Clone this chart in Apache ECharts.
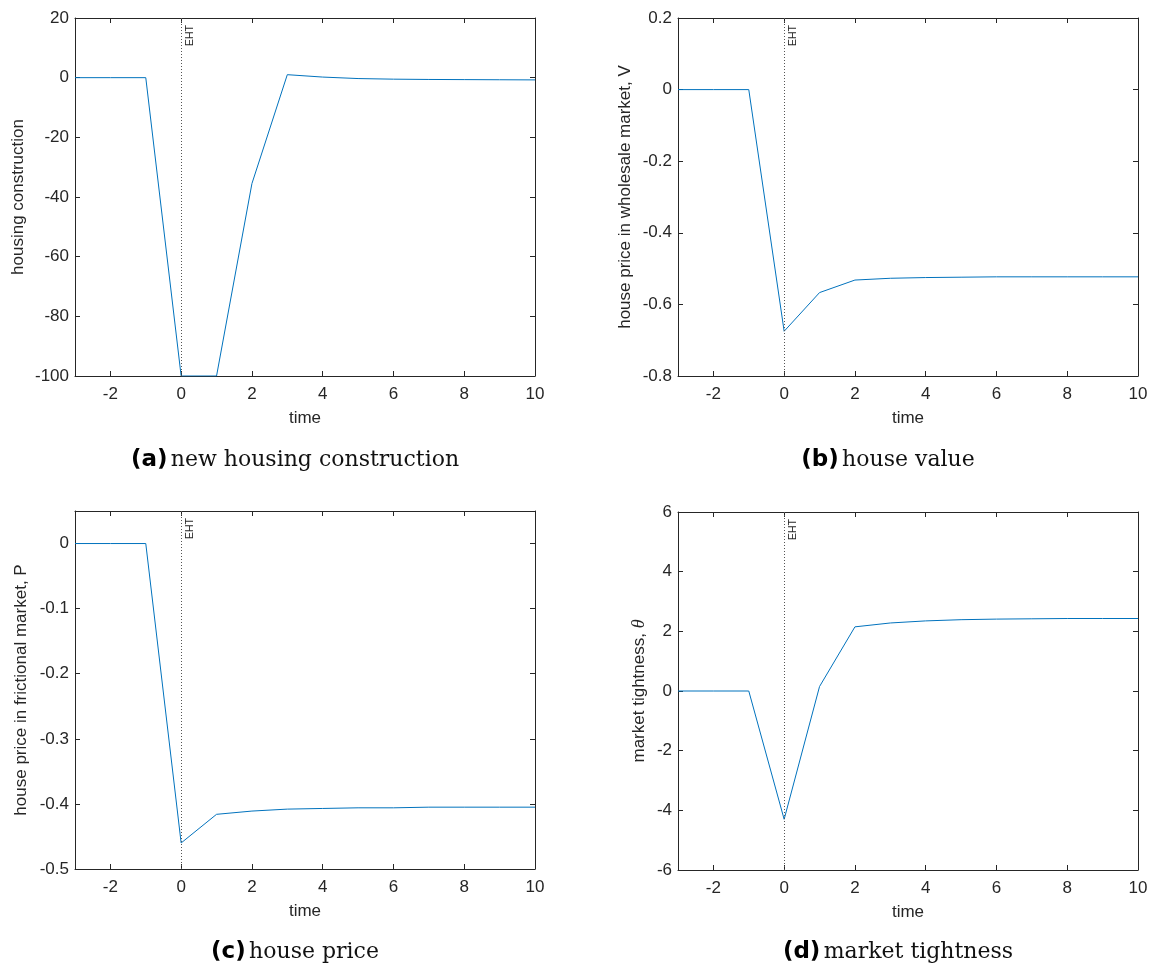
<!DOCTYPE html>
<html>
<head>
<meta charset="utf-8">
<script src="https://cdn.jsdelivr.net/npm/echarts@6/dist/echarts.min.js"></script>
<style>
  html, body { margin: 0; background: #fff; }
  #chart { width: 1151px; height: 971px; }
</style>
</head>
<body>
<div id="chart"></div>
<script>
// impulse responses, periods -3 .. 10
const time = [-3, -2, -1, 0, 1, 2, 3, 4, 5, 6, 7, 8, 9, 10]
const construction = [0, 0, 0, -100, -100, -35.5, 1.0, 0.2, -0.3, -0.5, -0.6, -0.65, -0.7, -0.75]
const houseValue = [0, 0, 0, -0.675, -0.567, -0.532, -0.527, -0.525, -0.524, -0.523, -0.523, -0.523, -0.523, -0.523]
const housePrice = [0, 0, 0, -0.46, -0.416, -0.411, -0.408, -0.407, -0.406, -0.406, -0.405, -0.405, -0.405, -0.405]
const tightness = [0, 0, 0, -4.3, 0.15, 2.15, 2.28, 2.35, 2.39, 2.41, 2.42, 2.43, 2.43, 2.43]

const xTicks = [-2, 0, 2, 4, 6, 8, 10]
const constructionTicks = [-100, -80, -60, -40, -20, 0, 20]
const valueTicks = [-0.8, -0.6, -0.4, -0.2, 0, 0.2]
const priceTicks = [-0.5, -0.4, -0.3, -0.2, -0.1, 0]
const tightnessTicks = [-6, -4, -2, 0, 2, 4, 6]

const axisColor = '#262626'
const lineColor = '#0072bd'
const sans = 'Liberation Sans, Arial, sans-serif'

const panels = [
  { left: 75, top: 18, data: construction, yMin: -100, yMax: 20, yTicks: constructionTicks,
    yName: 'housing construction', nameGap: 48, tag: '(a)', caption: 'new housing construction', capX: 295, capY: 460 },
  { left: 678, top: 18, data: houseValue, yMin: -0.8, yMax: 0.2, yTicks: valueTicks,
    yName: 'house price in wholesale market, V', nameGap: 44, tag: '(b)', caption: 'house value', capX: 888, capY: 460 },
  { left: 75, top: 511, data: housePrice, yMin: -0.5, yMax: 0.05, yTicks: priceTicks,
    yName: 'house price in frictional market, P', nameGap: 45, tag: '(c)', caption: 'house price', capX: 295, capY: 952 },
  { left: 678, top: 512, data: tightness, yMin: -6, yMax: 6, yTicks: tightnessTicks,
    yName: 'market tightness, {i|θ}', nameGap: 30, tag: '(d)', caption: 'market tightness', capX: 898, capY: 952 }
]

const grids = [], xAxes = [], yAxes = [], series = [], graphics = []

panels.forEach((p, i) => {
  grids.push({ left: p.left, top: p.top, width: 460, height: 358 })

  const line = { show: true, onZero: false, lineStyle: { color: axisColor, width: 1 } }
  const tick = { show: true, inside: true, length: 5, lineStyle: { color: axisColor } }
  const label = { color: axisColor, fontFamily: sans, fontSize: 17 }

  xAxes.push({
    gridIndex: i, type: 'value', position: 'bottom', min: -3, max: 10,
    axisLine: line, splitLine: { show: false },
    axisTick: { ...tick, customValues: xTicks },
    axisLabel: { ...label, margin: 10, customValues: xTicks },
    name: 'time', nameLocation: 'middle', nameGap: 34,
    nameTextStyle: { color: axisColor, fontFamily: sans, fontSize: 17 }
  })
  xAxes.push({
    gridIndex: i, type: 'value', position: 'top', min: -3, max: 10,
    axisLine: line, splitLine: { show: false },
    axisTick: { ...tick, customValues: xTicks },
    axisLabel: { show: false }
  })
  yAxes.push({
    gridIndex: i, type: 'value', position: 'left', min: p.yMin, max: p.yMax,
    axisLine: line, splitLine: { show: false },
    axisTick: { ...tick, customValues: p.yTicks },
    axisLabel: { ...label, margin: 6, customValues: p.yTicks },
    name: p.yName, nameLocation: 'middle', nameGap: p.nameGap,
    nameTextStyle: {
      color: axisColor, fontFamily: sans, fontSize: 17,
      rich: { i: { fontFamily: 'Liberation Serif, serif', fontStyle: 'italic', fontSize: 18, color: axisColor } }
    }
  })
  yAxes.push({
    gridIndex: i, type: 'value', position: 'right', min: p.yMin, max: p.yMax,
    axisLine: line, splitLine: { show: false },
    axisTick: { ...tick, customValues: p.yTicks },
    axisLabel: { show: false }
  })

  series.push({
    type: 'line',
    xAxisIndex: 2 * i,
    yAxisIndex: 2 * i,
    data: time.map((t, k) => [t, p.data[k]]),
    showSymbol: false,
    lineStyle: { color: lineColor, width: 1 },
    markLine: {
      silent: true,
      symbol: 'none',
      // sparse dots like the matlab xline
      lineStyle: { type: [1, 2], color: '#555', width: 1 },
      label: {
        show: true, formatter: 'EHT', position: 'insideEndBottom',
        fontFamily: sans, fontSize: 10.5, color: axisColor, distance: 3, padding: [0, 4, 0, 0]
      },
      data: [{ xAxis: 0 }]
    }
  })

  graphics.push({
    type: 'text',
    x: p.capX,
    y: p.capY,
    style: {
      text: '{b|' + p.tag + '} {t|' + p.caption + '}',
      align: 'center',
      verticalAlign: 'middle',
      rich: {
        b: { fontFamily: 'DejaVu Sans, sans-serif', fontWeight: 'bold', fontSize: 23, fill: '#000' },
        t: { fontFamily: 'DejaVu Serif, serif', fontSize: 22, fill: '#111' }
      }
    }
  })
})

const chart = echarts.init(document.getElementById('chart'))
chart.setOption({
  animation: false,
  grid: grids,
  xAxis: xAxes,
  yAxis: yAxes,
  series: series,
  graphic: graphics
})
</script>
</body>
</html>
